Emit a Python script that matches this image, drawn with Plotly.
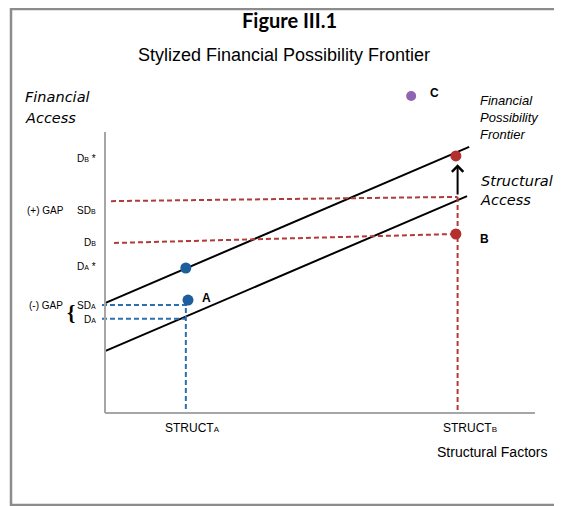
import plotly.graph_objects as go

# chart units: x = structural factors (0..10), y = financial access (0..10)
struct_x = [1.88, 8.2]            # STRUCT_A, STRUCT_B
struct_labels = ["STRUCT", "STRUCT"]
struct_subs = ["A", "B"]

frontier_x = [0.0, 8.47]
frontier_y = [3.91, 9.47]
access_x = [0.0, 8.42]
access_y = [2.2, 7.72]

# country A
a_star_y = 5.16     # D_A*
a_sd_y = 3.84       # SD_A
a_d_y = 3.35        # D_A
a_dot_y = 4.02
a_dot_x = 1.93

# country B
b_star_y = 9.15     # D_B*
b_sd_y = [7.54, 7.69]   # SD_B dashed (left, right)
b_sd_x = [0.14, 8.2]
b_d_y = [6.05, 6.37]    # D_B dashed (left, right)
b_d_x = [0.21, 8.16]

# country C
c_x = 7.12
c_y = 11.28

# y-side labels: (text, sub, suffix, y)
ylabels = [
    ("D", "B", " *", 9.04),
    ("SD", "B", "", 7.19),
    ("D", "B", "", 6.05),
    ("D", "A", " *", 5.2),
    ("SD", "A", "", 3.81),
    ("D", "A", "", 3.31),
]
gap_labels = [("(+) GAP", 7.19), ("(-) GAP", 3.81)]

BLUE = "#1c5f9c"
BLUE_D = "#2a6fb0"
RED = "#b3302f"
RED_D = "#b33a3a"
PURPLE = "#9064b0"
AXIS = "#a6a6a6"
SANS = "Liberation Sans, Arial, sans-serif"
ITAL = "DejaVu Sans, Verdana, sans-serif"
DASH = "5px,3px"

fig = go.Figure()

# axes of the diagram
fig.add_shape(type="line", x0=0, x1=0, y0=0, y1=10, line=dict(color=AXIS, width=2))
fig.add_shape(type="line", x0=0, x1=10, y0=0, y1=0, line=dict(color=AXIS, width=2))

# outer frame (right side runs off the page)
fig.add_shape(type="rect", x0=-2.186, x1=11.5, y0=-3.274, y1=14.38,
              line=dict(color="#8c8c8c", width=2.5))

# the two frontiers
fig.add_trace(go.Scatter(x=frontier_x, y=frontier_y, mode="lines",
                         line=dict(color="black", width=2)))
fig.add_trace(go.Scatter(x=access_x, y=access_y, mode="lines",
                         line=dict(color="black", width=2)))

# red dashed guides for B
fig.add_trace(go.Scatter(x=b_sd_x, y=b_sd_y, mode="lines",
                         line=dict(color=RED_D, width=2, dash=DASH)))
fig.add_trace(go.Scatter(x=b_d_x, y=b_d_y, mode="lines",
                         line=dict(color=RED_D, width=2, dash=DASH)))
fig.add_trace(go.Scatter(x=[struct_x[1], struct_x[1]], y=[b_sd_y[1], 0], mode="lines",
                         line=dict(color=RED_D, width=2, dash=DASH)))

# blue dashed guides for A
fig.add_trace(go.Scatter(x=[-0.07, a_dot_x], y=[a_sd_y, a_sd_y], mode="lines",
                         line=dict(color=BLUE_D, width=2, dash=DASH)))
fig.add_trace(go.Scatter(x=[-0.07, struct_x[0]], y=[a_d_y, a_d_y], mode="lines",
                         line=dict(color=BLUE_D, width=2, dash=DASH)))
fig.add_trace(go.Scatter(x=[struct_x[0], struct_x[0]], y=[a_dot_y, 0], mode="lines",
                         line=dict(color=BLUE_D, width=2, dash=DASH)))

# dots
fig.add_trace(go.Scatter(x=[struct_x[0], a_dot_x], y=[a_star_y, a_dot_y], mode="markers",
                         marker=dict(color=BLUE, size=11)))
fig.add_trace(go.Scatter(x=[struct_x[1] - 0.04, struct_x[1] - 0.04], y=[b_star_y, b_d_y[1]],
                         mode="markers", marker=dict(color=RED, size=11)))
fig.add_trace(go.Scatter(x=[c_x], y=[c_y], mode="markers",
                         marker=dict(color=PURPLE, size=10)))

# arrow from structural access up to frontier
fig.add_annotation(x=struct_x[1], y=8.85, ax=struct_x[1], ay=access_y[1],
                   axref="x", ayref="y", text="",
                   showarrow=True, arrowhead=4, arrowsize=1.1, arrowwidth=2, arrowcolor="black")

# point letters
for txt, x, y in [("A", 2.22, 4.09), ("B", 8.67, 6.19), ("C", 7.51, 11.39)]:
    fig.add_annotation(x=x, y=y, text=f"<b>{txt}</b>", showarrow=False, xanchor="left",
                       font=dict(family=SANS, size=12, color="black"))

# y labels
for main, sub, suf, y in ylabels:
    fig.add_annotation(x=-0.16, y=y, xanchor="right", showarrow=False,
                       text=f"{main}<span style='font-size:7px'>{sub}</span>{suf}",
                       font=dict(family=SANS, size=10, color="black"))
for txt, y in gap_labels:
    fig.add_annotation(x=-1.38, y=y, showarrow=False, text=txt,
                       font=dict(family=SANS, size=10, color="black"))
fig.add_annotation(x=-0.8, y=3.57, showarrow=False, text="<b>{</b>",
                   font=dict(family="Liberation Serif, serif", size=21, color="black"))

# x labels
for x, main, sub, shift in zip(struct_x, struct_labels, struct_subs, [7, 12]):
    fig.add_annotation(x=x, y=-0.53, xshift=shift, showarrow=False,
                       text=f"{main}<span style='font-size:8px'>{sub}</span>",
                       font=dict(family=SANS, size=12, color="black"))
fig.add_annotation(x=9.0, y=-1.39, showarrow=False, text="Structural Factors",
                   font=dict(family=SANS, size=14, color="black"))

# axis titles / curve names
fig.add_annotation(x=-1.9, y=11.25, xanchor="left", showarrow=False, text="<i>Financial</i>",
                   font=dict(family=ITAL, size=14.5, color="black"))
fig.add_annotation(x=-1.9, y=10.5, xanchor="left", showarrow=False, text="<i>Access</i>",
                   font=dict(family=ITAL, size=14.5, color="black"))
fig.add_annotation(x=8.67, y=10.5, xanchor="left", align="left", showarrow=False,
                   text="<i>Financial<br>Possibility<br>Frontier</i>",
                   font=dict(family=SANS, size=13, color="black"))
fig.add_annotation(x=8.67, y=7.92, xanchor="left", align="left", showarrow=False,
                   text="<i>Structural<br>Access</i>",
                   font=dict(family=ITAL, size=14.5, color="black"))

# titles
fig.add_annotation(x=4.30, y=13.99, showarrow=False, text="<b>Figure III.1</b>",
                   font=dict(family="Lato, Open Sans, sans-serif", size=20, color="black"))
fig.add_annotation(x=4.16, y=12.74, showarrow=False, text="Stylized Financial Possibility Frontier",
                   font=dict(family=SANS, size=18, color="black"))

# whole page is the plot area; 1 unit = 43px across, 28.1px up
fig.update_xaxes(range=[-97 / 43, 457 / 43], visible=False)
fig.update_yaxes(range=[-93 / 28.1, 405 / 28.1], visible=False)
fig.update_layout(
    width=554, height=498,
    margin=dict(l=0, r=0, t=0, b=0),
    showlegend=False,
    plot_bgcolor="white",
    paper_bgcolor="white",
)

fig.write_html("out.html")
